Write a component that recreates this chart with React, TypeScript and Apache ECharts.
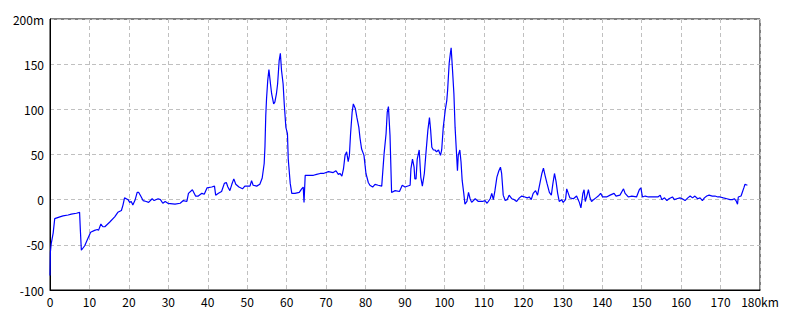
import React, { useEffect, useRef } from "react";
import * as echarts from "echarts";

const distanceKm: number[] = [
  0, 0.1, 0.3, 0.8, 1.2, 2.5, 3.3, 4.6, 5.4, 6.7, 7.5, 7.7, 7.95, 8.8, 9.6, 10.3, 11.3, 12.0, 12.3, 12.9,
  13.4, 13.9, 15.1, 16.4, 17.2, 18.1, 18.5, 18.9, 19.8, 20.2, 20.6, 21.0, 21.6, 22.1, 22.5, 23.0, 23.6, 24.4,
  25.0, 25.9, 26.4, 27.4, 28.0, 28.6, 29.2, 29.9, 31.7, 33.0, 33.8, 34.7, 35.1, 36.1, 36.9, 37.6, 38.5, 39.1,
  39.8, 41.0, 41.7, 42.0, 42.7, 43.5, 44.2, 44.7, 45.1, 45.6, 46.1, 46.6, 47.1, 47.9, 48.8, 49.4, 50.7, 51.1,
  51.5, 52.4, 53.2, 53.8, 54.3, 54.5, 54.7, 54.9, 55.2, 55.5, 55.9, 56.2, 56.7, 57.0, 57.4, 57.7, 58.1, 58.4,
  58.7, 59.1, 59.4, 59.8, 60.2, 60.4, 60.9, 61.3, 62.1, 63.2, 63.8, 64.2, 64.4, 64.7, 65.9, 66.8, 67.6, 68.5,
  69.3, 70.6, 71.8, 72.5, 73.1, 73.5, 74.0, 74.4, 74.8, 75.2, 75.6, 75.9, 76.2, 76.6, 76.9, 77.4, 77.8, 78.3,
  78.6, 79.0, 79.6, 80.1, 80.7, 81.1, 81.8, 82.4, 83.2, 84.1, 84.7, 85.2, 85.5, 85.8, 86.2, 86.6, 87.5, 88.6,
  89.3, 90.0, 91.3, 91.5, 91.9, 92.3, 92.5, 92.8, 93.1, 93.6, 94.0, 94.4, 94.9, 95.3, 95.8, 96.2, 96.5, 96.8,
  97.2, 97.6, 98.0, 98.5, 99.0, 99.3, 99.7, 100.2, 100.6, 100.8, 101.2, 101.5, 101.7, 102.0, 102.4, 102.7,
  103.0, 103.3, 103.5, 103.9, 104.2, 104.5, 104.9, 105.2, 105.7, 106.1, 106.5, 106.9, 107.8, 108.6, 109.6,
  110.3, 110.8, 111.6, 112.0, 112.4, 112.8, 113.3, 113.8, 114.2, 114.5, 114.9, 115.4, 115.9, 116.4, 117.1,
  117.7, 118.3, 119.0, 119.6, 120.4, 121.0, 121.5, 122.0, 122.5, 123.1, 123.6, 124.2, 124.7, 125.1, 125.5,
  126.0, 126.6, 127.1, 127.5, 127.9, 128.3, 128.7, 129.1, 129.7, 130.1, 130.7, 131.0, 131.4, 131.8, 132.7,
  133.5, 134.2, 134.6, 135.1, 135.4, 135.7, 136.1, 136.5, 136.9, 137.3, 137.8, 138.4, 139.0, 139.6, 140.1,
  141.1, 142.0, 143.0, 143.5, 144.5, 145.4, 145.8, 146.6, 147.5, 148.7, 149.4, 149.8, 150.2, 150.9, 151.7,
  153.0, 154.1, 154.7, 155.1, 155.8, 156.4, 156.9, 157.8, 158.3, 158.9, 159.7, 160.3, 161.0, 161.7, 162.3,
  162.9, 163.5, 164.2, 164.8, 165.4, 165.9, 166.5, 167.1, 167.9, 168.6, 169.3, 169.9, 170.7, 171.6, 172.4,
  173.0, 173.5, 173.9, 174.3, 174.5, 175.2, 175.5, 175.9, 176.2, 176.8,
];

const elevationM: number[] = [
  -84, -58, -49, -37, -21, -19, -18, -17, -16, -15, -14, -34, -56, -51, -43, -36, -34, -33, -34, -27,
  -30, -30, -25, -19, -14, -12, -6, 2, 0, -3, -2, -6, 0, 8, 8, 4, -1, -2,
  -3, 1, -1, 1, 0, -4, -2, -4, -5, -4, -1, -2, 7, 11, 4, 4, 7, 6,
  13, 14, 15, 5, 7, 9, 18, 19, 14, 10, 17, 23, 17, 14, 12, 15, 15, 21,
  16, 15, 17, 24, 40, 59, 93, 112, 132, 144, 128, 117, 106, 108, 117, 128, 154, 162,
  143, 128, 105, 80, 73, 45, 18, 7, 7, 8, 12, 14, -3, 27, 27, 27, 28, 29,
  29, 31, 30, 32, 28, 29, 26, 34, 49, 53, 42, 49, 73, 97, 106, 101, 91, 80,
  68, 56, 49, 29, 19, 16, 14, 17, 16, 15, 51, 73, 97, 103, 71, 8, 10, 9,
  16, 14, 16, 34, 45, 36, 23, 23, 45, 55, 25, 15, 29, 51, 77, 91, 77, 58,
  55, 55, 53, 55, 49, 55, 80, 99, 110, 121, 151, 162, 168, 147, 117, 80,
  56, 32, 49, 55, 42, 21, 7, -5, -2, 8, 1, -3, 1, -2, -2,
  -1, -4, 1, 7, 0, 10, 25, 32, 36, 29, 5, -1, 0, 5, 1,
  0, -2, 2, 4, 3, 2, 3, 0, 7, 10, 5, 18, 29, 35, 27,
  18, 8, 5, 18, 29, 20, 7, -2, 0, -3, 0, 12, 7, 2, 1,
  4, -3, -9, 7, 11, -2, 4, 11, 2, -2, 0, 2, 4, 7, 3,
  3, 5, 7, 4, 5, 12, 7, 3, 4, 3, 11, 13, 3, 4, 3,
  3, 3, 5, 0, 2, -1, 1, 3, 0, 1, 2, 1, -1, 2, 4,
  2, 4, 1, 2, -1, 2, 4, 5, 4, 4, 3, 3, 2, 1, 0,
  0, 1, -1, -5, 3, 4, 8, 13, 17, 16,
];

const xTicks = { min: 0, max: 180, interval: 10, unit: "km" };
const yTicks = { min: -100, max: 200, interval: 50, unit: "m" };

export default function App() {
  const ref = useRef<HTMLDivElement>(null);
  useEffect(() => {
    if (!ref.current) return;
    const chart = echarts.init(ref.current, null, { renderer: "svg" });
    const data = distanceKm.map((d, i) => [d, elevationM[i]]);
    const font = "'Noto Sans CJK JP', 'DejaVu Sans', sans-serif";
    chart.setOption({
      animation: false,
      backgroundColor: "#ffffff",
      grid: {
        left: 50,
        right: 40,
        top: 19,
        bottom: 30,
        show: true,
        borderColor: "#000000",
        borderWidth: 1,
        containLabel: false,
      },
      xAxis: {
        type: "value",
        min: xTicks.min,
        max: xTicks.max,
        interval: xTicks.interval,
        axisLine: { show: true, onZero: false, lineStyle: { color: "#000000", width: 1 } },
        axisTick: { show: false },
        axisLabel: {
          color: "#000000",
          fontFamily: font,
          fontSize: 12,
          margin: 5,
          formatter: (v: number) => (v === xTicks.max ? `${v}${xTicks.unit}` : `${v}`),
        },
        splitLine: { show: true, lineStyle: { color: "#c0c0c0", type: [4, 3], width: 1 } },
      },
      yAxis: {
        type: "value",
        min: yTicks.min,
        max: yTicks.max,
        interval: yTicks.interval,
        axisLine: { show: true, onZero: false, lineStyle: { color: "#000000", width: 1 } },
        axisTick: { show: false },
        axisLabel: {
          color: "#000000",
          fontFamily: font,
          fontSize: 12,
          margin: 6,
          formatter: (v: number) => (v === yTicks.max ? `${v}${yTicks.unit}` : `${v}`),
        },
        splitLine: { show: true, lineStyle: { color: "#c0c0c0", type: [4, 3], width: 1 } },
      },
      series: [
        {
          type: "line",
          data,
          showSymbol: false,
          symbol: "none",
          smooth: false,
          lineStyle: { color: "#0000ff", width: 1.2 },
        },
      ],
    });
    return () => chart.dispose();
  }, []);
  return (
    <div
      ref={ref}
      style={{ position: "fixed", left: 0, top: 0, width: 800, height: 320, background: "#ffffff" }}
    />
  );
}
